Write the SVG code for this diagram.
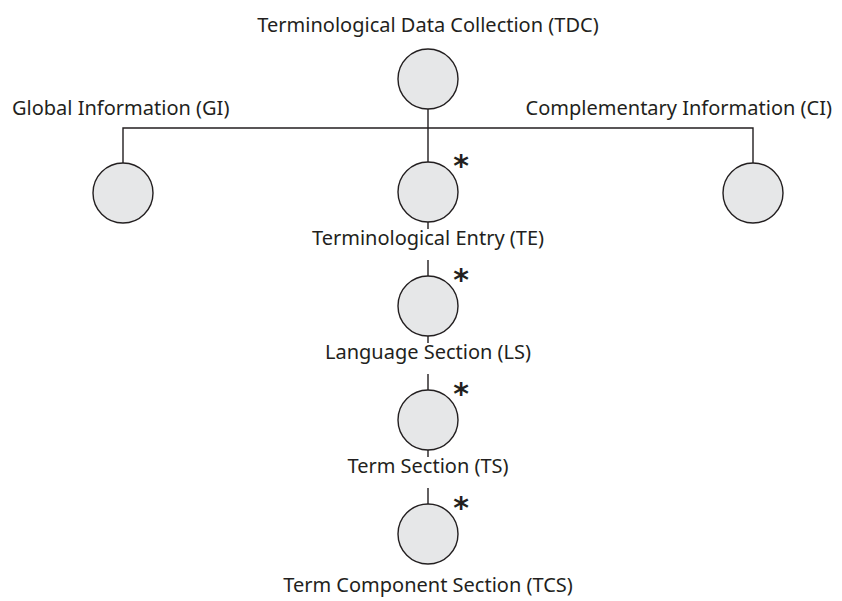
<svg xmlns="http://www.w3.org/2000/svg" width="842" height="601" viewBox="0 0 842 601">
<style>
.n{fill:#e6e7e8;stroke:#231f20;stroke-width:1.4}
.c{stroke:#231f20;stroke-width:1.4;fill:none}
text{font-family:"Noto Sans","Open Sans",sans-serif;font-size:20px;fill:#231f20}
.m{text-anchor:middle}
.s{font-family:"DejaVu Sans",sans-serif;font-size:30px;font-weight:bold}
</style>
<rect width="842" height="601" fill="#fff"/>
<g id="connectors">
<path class="c" d="M428 109V162M123 163V128H753V163"/>
<path class="c" d="M428 222V229M428 260V276"/>
<path class="c" d="M428 336V343M428 374V390"/>
<path class="c" d="M428 450V457M428 488V504"/>
</g>
<g id="tdc"><circle class="n" cx="428" cy="79" r="30"/><text class="m" x="428" y="32">Terminological Data Collection (TDC)</text></g>
<g id="gi"><circle class="n" cx="123" cy="193" r="30"/><text x="12" y="115">Global Information (GI)</text></g>
<g id="ci"><circle class="n" cx="753" cy="193" r="30"/><text x="832" y="115" text-anchor="end">Complementary Information (CI)</text></g>
<g id="te"><circle class="n" cx="428" cy="192" r="30"/><text class="s" x="461" y="176" text-anchor="middle">*</text><text class="m" x="428" y="245">Terminological Entry (TE)</text></g>
<g id="ls"><circle class="n" cx="428" cy="306" r="30"/><text class="s" x="461" y="290" text-anchor="middle">*</text><text class="m" x="428" y="359">Language Section (LS)</text></g>
<g id="ts"><circle class="n" cx="428" cy="420" r="30"/><text class="s" x="461" y="404" text-anchor="middle">*</text><text class="m" x="428" y="473">Term Section (TS)</text></g>
<g id="tcs"><circle class="n" cx="428" cy="534" r="30"/><text class="s" x="461" y="518" text-anchor="middle">*</text><text class="m" x="428" y="592">Term Component Section (TCS)</text></g>
</svg>
